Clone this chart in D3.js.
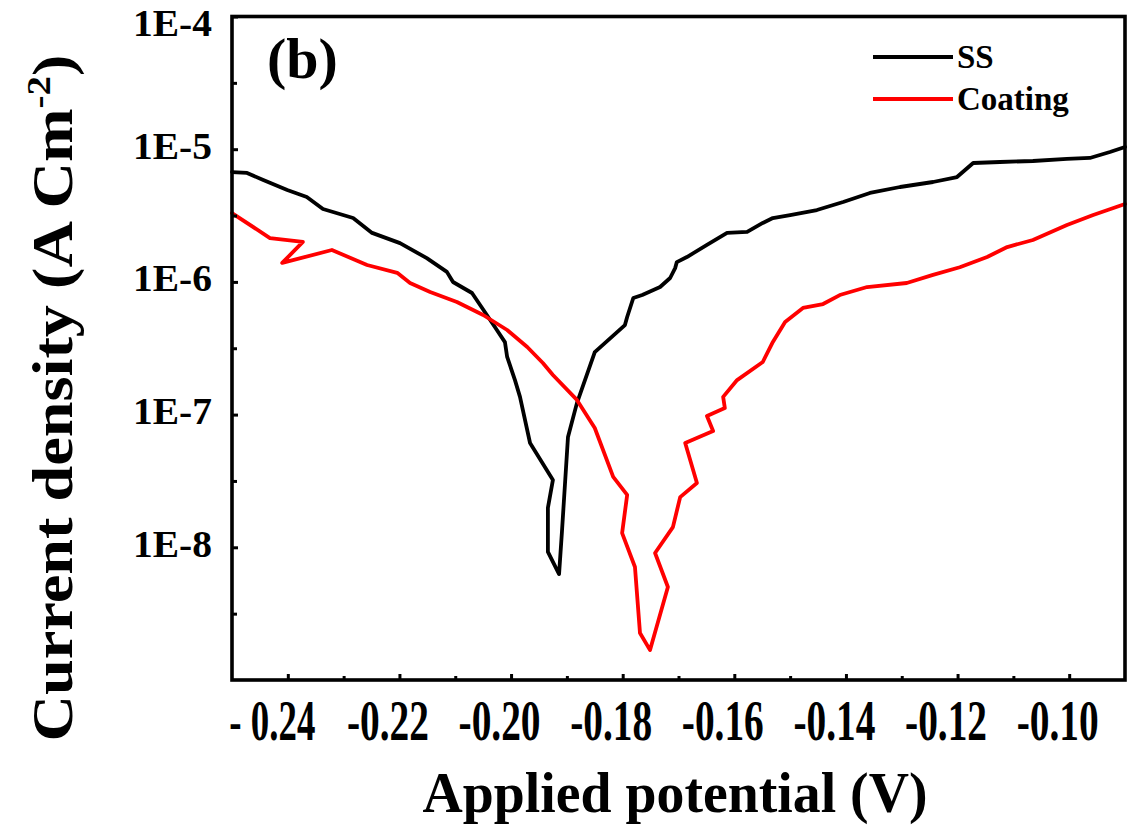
<!DOCTYPE html>
<html>
<head>
<meta charset="utf-8">
<script src="https://cdn.jsdelivr.net/npm/d3@7"></script>
<style>
  html, body { margin: 0; padding: 0; background: #fff; }
  svg { display: block; }
  text { font-family: "Liberation Serif", "Times New Roman", serif; font-weight: bold; fill: #000; }
</style>
</head>
<body>
<svg id="chart" width="1141" height="826"></svg>
<script>
// Polarization curves: potential (V) vs current density (A cm^-2)
const ssPotential = [-0.2500,-0.2473,-0.2444,-0.2401,-0.2366,-0.2337,-0.2283,-0.2249,-0.2199,-0.2151,
  -0.2115,-0.2104,-0.2070,-0.2047,-0.2029,-0.2011,-0.2007,-0.1993,-0.1984,-0.1966,
  -0.1925,-0.1934,-0.1934,-0.1914,-0.1909,-0.1898,-0.1882,-0.1850,-0.1796,-0.1792,
  -0.1781,-0.1765,-0.1733,-0.1715,-0.1706,-0.1703,-0.1685,-0.1649,-0.1613,-0.1577,
  -0.1549,-0.1531,-0.1500,-0.1452,-0.1405,-0.1357,-0.1303,-0.1244,-0.1201,-0.1172,
  -0.1124,-0.1065,-0.1004,-0.0963,-0.0927,-0.0900];
const ssCurrent = [6.73e-6,6.62e-6,5.86e-6,4.93e-6,4.36e-6,3.54e-6,3.03e-6,2.34e-6,1.96e-6,1.51e-6,
  1.19e-6,9.98e-7,8.25e-7,5.93e-7,4.57e-7,3.52e-7,2.72e-7,1.82e-7,1.36e-7,6.11e-8,
  3.22e-8,1.98e-8,9.22e-9,6.29e-9,1.28e-8,6.78e-8,1.22e-7,2.96e-7,4.73e-7,5.44e-7,
  7.56e-7,7.96e-7,9.15e-7,1.07e-6,1.27e-6,1.41e-6,1.54e-6,1.90e-6,2.34e-6,2.38e-6,
  2.78e-6,3.03e-6,3.19e-6,3.48e-6,4.00e-6,4.68e-6,5.19e-6,5.66e-6,6.17e-6,7.87e-6,
  8.01e-6,8.15e-6,8.44e-6,8.59e-6,9.53e-6,1.04e-5];

const coatingPotential = [-0.2500,-0.2432,-0.2373,-0.2410,-0.2321,-0.2258,-0.2204,-0.2181,-0.2145,-0.2097,
  -0.2050,-0.2007,-0.1971,-0.1943,-0.1925,-0.1882,-0.1850,-0.1817,-0.1792,-0.1801,
  -0.1778,-0.1769,-0.1751,-0.1719,-0.1742,-0.1710,-0.1697,-0.1667,-0.1688,-0.1638,
  -0.1649,-0.1617,-0.1620,-0.1595,-0.1549,-0.1532,-0.1509,-0.1477,-0.1441,-0.1411,
  -0.1362,-0.1291,-0.1244,-0.1196,-0.1147,-0.1111,-0.1065,-0.1004,-0.0957,-0.0900];
const coatingCurrent = [3.30e-6,2.14e-6,2.00e-6,1.39e-6,1.74e-6,1.34e-6,1.17e-6,9.81e-7,8.39e-7,7.06e-7,
  5.63e-7,4.34e-7,3.23e-7,2.45e-7,1.99e-7,1.29e-7,7.93e-8,3.39e-8,2.48e-8,1.28e-8,
  7.10e-9,2.26e-9,1.68e-9,5.02e-9,9.06e-9,1.42e-8,2.39e-8,3.05e-8,6.11e-8,7.52e-8,
  9.76e-8,1.12e-7,1.36e-7,1.82e-7,2.49e-7,3.46e-7,4.99e-7,6.36e-7,6.81e-7,7.96e-7,
  9.15e-7,9.81e-7,1.13e-6,1.29e-6,1.54e-6,1.83e-6,2.07e-6,2.68e-6,3.19e-6,3.86e-6];

const seriesNames = ["SS", "Coating"];
const seriesColors = ["#000000", "#ff0000"];

const xTicks = [-0.24, -0.22, -0.20, -0.18, -0.16, -0.14, -0.12, -0.10];
const xTickLabels = ["- 0.24", "-0.22", "-0.20", "-0.18", "-0.16", "-0.14", "-0.12", "-0.10"];
const xMinorTicks = [-0.23, -0.21, -0.19, -0.17, -0.15, -0.13, -0.11];
const yTicks = [1e-8, 1e-7, 1e-6, 1e-5, 1e-4];
const yTickLabels = ["1E-8", "1E-7", "1E-6", "1E-5", "1E-4"];
const yMinorExponents = [-8.5, -7.5, -6.5, -5.5, -4.5];

const svg = d3.select("#chart");
const plot = { left: 232, right: 1125, top: 16.5, bottom: 680 };

const x = d3.scaleLinear().domain([-0.25, -0.09]).range([plot.left, plot.right]);
const y = d3.scaleLog().domain([1e-9, 1e-4]).range([plot.bottom, plot.top]);

// curves
const series = [
  { name: seriesNames[0], color: seriesColors[0], pts: ssPotential.map((p, i) => [p, ssCurrent[i]]) },
  { name: seriesNames[1], color: seriesColors[1], pts: coatingPotential.map((p, i) => [p, coatingCurrent[i]]) }
];
const line = d3.line().x(d => x(d[0])).y(d => y(d[1]));

svg.append("g").selectAll("path").data(series).join("path")
  .attr("d", d => line(d.pts))
  .attr("fill", "none")
  .attr("stroke", d => d.color)
  .attr("stroke-width", 3.8)
  .attr("stroke-linejoin", "round")
  .attr("stroke-linecap", "round");

// bottom axis (ticks pointing inward); labels are drawn in a condensed face
const xAxis = svg.append("g").attr("transform", `translate(0,${plot.bottom})`)
  .call(d3.axisBottom(x).tickValues(xTicks).tickSizeInner(-6).tickSizeOuter(0)
    .tickFormat((d, i) => xTickLabels[i]));
xAxis.select(".domain").remove();
xAxis.selectAll(".tick line").attr("stroke", "#000").attr("stroke-width", 3);
xAxis.selectAll(".tick text")
  .attr("font-size", 57)
  .attr("x", 0).attr("y", 0).attr("dy", 0)
  .attr("fill", "#000")
  .each(function (d, i) {
    const natural = this.getComputedTextLength();
    const target = i === 0 ? 86 : 82;
    const dx = i === 0 ? -16 : -12;
    d3.select(this).attr("transform", `translate(${dx},60) scale(${target / natural},1)`);
  });

const xMinor = svg.append("g").attr("transform", `translate(0,${plot.bottom})`)
  .call(d3.axisBottom(x).tickValues(xMinorTicks).tickSizeInner(-4).tickSizeOuter(0).tickFormat(""));
xMinor.select(".domain").remove();
xMinor.selectAll(".tick line").attr("stroke", "#000").attr("stroke-width", 3);

// left axis (log scale)
const yAxis = svg.append("g").attr("transform", `translate(${plot.left},0)`)
  .call(d3.axisLeft(y).tickValues(yTicks).tickSizeInner(-6).tickSizeOuter(0)
    .tickPadding(20).tickFormat((d, i) => yTickLabels[i]));
yAxis.select(".domain").remove();
yAxis.selectAll(".tick line").attr("stroke", "#000").attr("stroke-width", 3);
yAxis.selectAll(".tick text")
  .attr("font-size", 37)
  .attr("dy", 0)
  .attr("y", d => Math.max(9, 35 - y(d)))
  .attr("textLength", 79)
  .attr("lengthAdjust", "spacingAndGlyphs")
  .attr("fill", "#000");

const yMinor = svg.append("g").attr("transform", `translate(${plot.left},0)`)
  .call(d3.axisLeft(y).tickValues(yMinorExponents.map(e => Math.pow(10, e)))
    .tickSizeInner(-5).tickSizeOuter(0).tickFormat(""));
yMinor.select(".domain").remove();
yMinor.selectAll(".tick line").attr("stroke", "#000").attr("stroke-width", 3);

// frame
svg.append("rect")
  .attr("x", plot.left).attr("y", plot.top)
  .attr("width", plot.right - plot.left).attr("height", plot.bottom - plot.top)
  .attr("fill", "none").attr("stroke", "#000").attr("stroke-width", 3.6);

// axis titles
svg.append("text")
  .attr("x", 675).attr("y", 812)
  .attr("text-anchor", "middle")
  .attr("font-size", 58)
  .attr("textLength", 505).attr("lengthAdjust", "spacingAndGlyphs")
  .text("Applied potential (V)");

const yTitle = svg.append("text")
  .attr("transform", "translate(72,398) rotate(-90)")
  .attr("text-anchor", "middle")
  .attr("font-size", 56)
  .attr("textLength", 687).attr("lengthAdjust", "spacingAndGlyphs");
yTitle.append("tspan").text("Current density (A Cm");
yTitle.append("tspan").attr("font-size", 34).attr("dy", -22).text("-2");
yTitle.append("tspan").attr("dy", 22).text(")");

// panel label
svg.append("text")
  .attr("x", 267).attr("y", 78)
  .attr("font-size", 58)
  .text("(b)");

// legend
const legend = svg.append("g");
const legendY = [57, 99];
series.forEach((s, i) => {
  legend.append("line")
    .attr("x1", 873).attr("x2", 953)
    .attr("y1", legendY[i]).attr("y2", legendY[i])
    .attr("stroke", s.color).attr("stroke-width", 4);
  legend.append("text")
    .attr("x", 957).attr("y", legendY[i] + 11)
    .attr("font-size", 33)
    .text(s.name);
});
</script>
</body>
</html>
